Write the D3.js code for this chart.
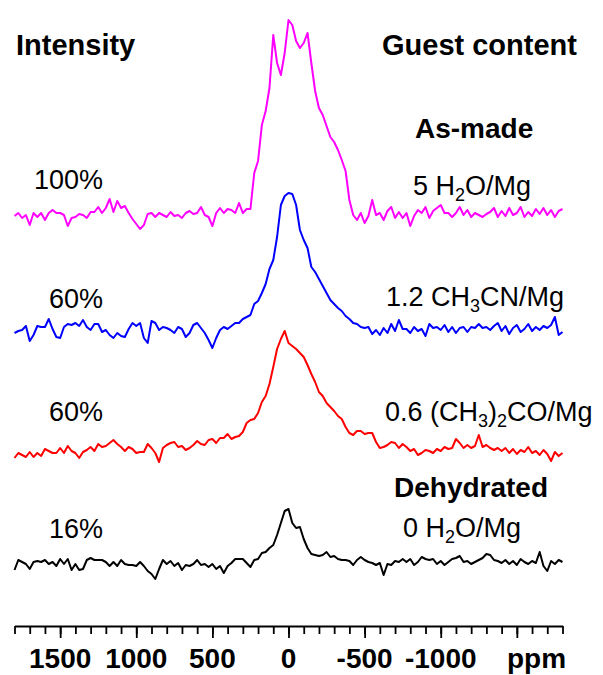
<!DOCTYPE html>
<html><head><meta charset="utf-8">
<script src="https://cdn.jsdelivr.net/npm/d3@7"></script>
<style>body{margin:0;background:#fff} svg{display:block}</style>
</head><body>
<script>
// chemical shift grid (ppm): 1800 down to -1800, one value every 25 ppm
const ppmStart = 1800, ppmStep = 25;

// intensities (arbitrary units, baseline = 0)
const asMade = [-3,0,-5,-2,-12,0,-4,0,-7,0, 3,0,0,-2,-13,-5,-4,-1,-2,-5, 1,1,6,0,5,14,1,12,5,7, 0,-6,-11,-16,-12,-1,0,-4,0,-2, -4,1,-3,-2,-5,0,2,-1,0,6, -2,-4,-13,0,5,0,4,3,0,10, 0,4,4,
 40,52,88,102,125,178,150,138,160,193,188,172,165,170,180,150,122,105,98,87,76,71,63,53,42,13,-2,
 -7,0,-10,-3,13,-2,0,-7,2,6,-5,1,-5,0,-13,-3,3,0,6,-5,2,5,8,0,0,-4,0,6,-2,3,-4,0,-2,-4,-1,1,5,-4,
 2,-3,5,-2,0,6,-4,1,-3,4,-1,5,-2,3,-4,2,4];
const acetonitrile = [-4,-2,-1,3,-12,-6,3,2,2,10, 0,-8,-9,2,5,4,6,3,9,2, -1,5,5,-3,-1,-6,-9,-4,-7,-8, 0,6,3,6,-9,-14,8,6,-1,2, 1,-1,-4,2,0,-8,-4,4,6,1, -4,-11,-19,-9,-1,2,0,3,6,6, 10,12,14,
 25,28,36,45,60,69,92,124,133,136,135,124,99,89,81,62,57,50,43,36,29,25,21,18,13,10,6,5,2,1,2,-5,-1,
 -6,1,-4,5,-2,9,0,0,-4,2,-2,0,-7,5,1,2,-1,4,-3,2,-4,1,2,-3,2,1,5,1,2,-1,3,6,
 -2,3,-5,1,4,-3,0,5,-2,2,-1,3,1,4,12,-6,-3];
const acetone = [-1,4,2,0,5,0,4,1,8,6, 4,4,9,4,11,6,4,-1,5,7, 10,6,13,10,11,14,17,13,10,6, 10,8,4,5,5,13,9,4,-5,9, 12,14,15,10,11,7,9,12,16,13, 12,17,18,14,19,19,23,18,20,21, 25,34,37,
 38,44,55,61,73,90,108,118,126,114, 111,108,104,100,92,83,75,65,61,54, 50,46,41,38,30,24,22,26,26,23, 24,24,15,9,10,12,15,14,9,13, 10,6,8,2,4,7,6,4,8,6, 10,8,9,18,14,9,12,9,11,22, 10,12,9,7,9,
 6,9,4,8,3,7,5,10,4,6,2,7,3,-4,5,1,4];
const dehydrated = [-3,7,5,3,-2,5,6,5,7,3, 5,1,8,3,8,-3,3,-3,-2,7, 9,7,7,7,5,1,5,1,7,3, 2,2,1,5,1,-4,-7,-12,-2,7, 3,6,1,4,-3,2,1,3,7,2, 3,0,3,-2,1,-6,1,4,8,8, 8,4,0,
 7,8,14,15,19,22,32,44,56,58, 44,39,40,28,19,13,12,11,12,15, 10,11,8,7,7,6,2,7,10,7, 5,4,2,4,-8,3,2,6,5,8, 5,8,2,5,10,8,7,8,3,6, 2,5,8,9,11,5,6,3,5,7, 9,13,12,7,6,
 4,7,3,6,2,8,5,3,6,4,15,1,-4,6,3,7,5];

const seriesNames = ["As-made","CH3CN","acetone","Dehydrated"];
const intensityLabels = ["100%","60%","60%","16%"];
const majorTicks = [1500,1000,500,0,-500,-1000];
const axisUnit = "ppm";

// ---------------- layout ----------------
const W = 603, H = 675;
const svg = d3.select("body").append("svg").attr("width", W).attr("height", H);
const font = "'Liberation Sans', Arial, sans-serif";

const x = d3.scaleLinear().domain([1800, -1800]).range([14.5, 562.5]);
const y = d3.scaleLinear().domain([0, 620]).range([627, 7]);

const traces = [
  {data: asMade, color: "#ff00ff", offset: 414},
  {data: acetonitrile, color: "#0000ff", offset: 298},
  {data: acetone, color: "#ff0000", offset: 170},
  {data: dehydrated, color: "#000000", offset: 60}
];

const line = d3.line()
  .x((d, i) => x(ppmStart - i * ppmStep))
  .y(d => d);

traces.forEach(t => {
  svg.append("path")
    .attr("d", d3.line().x((d, i) => x(ppmStart - i * ppmStep)).y(d => y(d + t.offset))(t.data))
    .attr("fill", "none")
    .attr("stroke", t.color)
    .attr("stroke-width", 2)
    .attr("stroke-linejoin", "round");
});

// ---------------- axis ----------------
const axisY = 626;
const minor = d3.range(1800, -1801, -100);
const major = d3.range(1500, -1501, -500);
const gMinor = svg.append("g").attr("transform", `translate(0,${axisY})`)
  .call(d3.axisBottom(x).tickValues(minor).tickSize(8).tickSizeOuter(0).tickFormat(""));
const gMajor = svg.append("g").attr("transform", `translate(0,${axisY})`)
  .call(d3.axisBottom(x).tickValues(major).tickSize(12).tickSizeOuter(0).tickFormat(""));
svg.selectAll(".domain").attr("stroke", "#000").attr("stroke-width", 2.2);
svg.selectAll(".tick line").attr("stroke", "#000").attr("stroke-width", 1.8);
gMajor.select(".domain").remove();

svg.append("g").selectAll("text").data(majorTicks).join("text")
  .attr("x", d => x(d)).attr("y", 668)
  .attr("text-anchor", "middle")
  .attr("font-family", font).attr("font-weight", "bold").attr("font-size", 28)
  .text(d => d);
svg.append("text").attr("x", 507).attr("y", 668)
  .attr("font-family", font).attr("font-weight", "bold").attr("font-size", 28)
  .text(axisUnit);

// ---------------- labels ----------------
function txt(xp, yp, size, bold, anchor) {
  return svg.append("text").attr("x", xp).attr("y", yp)
    .attr("font-family", font).attr("font-size", size)
    .attr("font-weight", bold ? "bold" : "normal")
    .attr("text-anchor", anchor || "start");
}
txt(16, 55, 29, true).text("Intensity");
txt(382, 55, 29, true).text("Guest content");
txt(415, 138, 28, true).text("As-made");
txt(394, 497, 28, true).text("Dehydrated");

const pctY = [189, 308, 421, 538];
intensityLabels.forEach((s, i) => txt(103, pctY[i], 27, false, "end").text(s));

function sub(t, s) { t.append("tspan").attr("font-size", 18).attr("dy", 6).text(s); }
function norm(t, s) { t.append("tspan").attr("dy", -6).text(s); }

let t1 = txt(413, 195, 27, false);
t1.append("tspan").text("5 H"); sub(t1, "2"); norm(t1, "O/Mg");

let t2 = txt(386, 306, 27, false);
t2.append("tspan").text("1.2 CH"); sub(t2, "3"); norm(t2, "CN/Mg");

let t3 = txt(385, 421, 27, false);
t3.append("tspan").text("0.6 (CH"); sub(t3, "3"); norm(t3, ")");
sub(t3, "2"); norm(t3, "CO/Mg");

let t4 = txt(403, 537, 27, false);
t4.append("tspan").text("0 H"); sub(t4, "2"); norm(t4, "O/Mg");
</script>
</body></html>
